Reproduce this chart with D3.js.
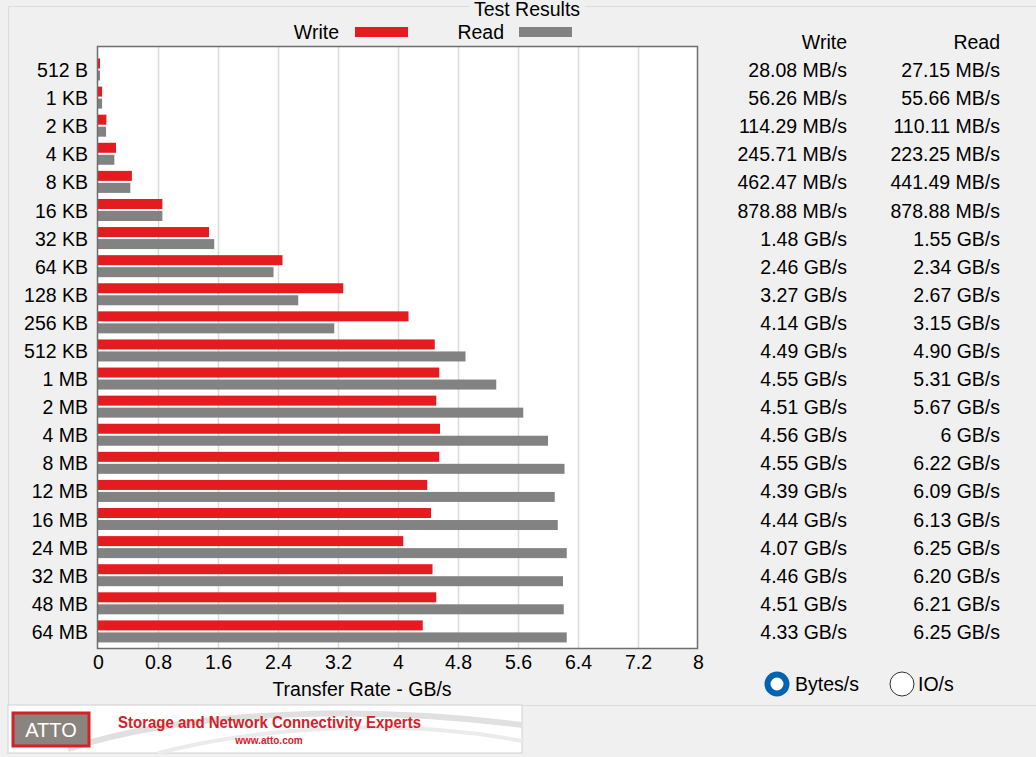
<!DOCTYPE html>
<html>
<head>
<meta charset="utf-8">
<script src="https://cdn.jsdelivr.net/npm/d3@7"></script>
<style>
  body { margin: 0; background: #f0f0f0; }
  svg { display: block; }
</style>
</head>
<body>
<div id="chart"></div>
<script>
// Transfer sizes and the rates ATTO printed for them
var sizes = ['512 B', '1 KB', '2 KB', '4 KB', '8 KB', '16 KB', '32 KB', '64 KB', '128 KB', '256 KB',
  '512 KB', '1 MB', '2 MB', '4 MB', '8 MB', '12 MB', '16 MB', '24 MB', '32 MB', '48 MB', '64 MB']
var writeRates = ['28.08 MB/s', '56.26 MB/s', '114.29 MB/s', '245.71 MB/s', '462.47 MB/s', '878.88 MB/s',
  '1.48 GB/s', '2.46 GB/s', '3.27 GB/s', '4.14 GB/s', '4.49 GB/s', '4.55 GB/s', '4.51 GB/s', '4.56 GB/s',
  '4.55 GB/s', '4.39 GB/s', '4.44 GB/s', '4.07 GB/s', '4.46 GB/s', '4.51 GB/s', '4.33 GB/s']
var readRates = ['27.15 MB/s', '55.66 MB/s', '110.11 MB/s', '223.25 MB/s', '441.49 MB/s', '878.88 MB/s',
  '1.55 GB/s', '2.34 GB/s', '2.67 GB/s', '3.15 GB/s', '4.90 GB/s', '5.31 GB/s', '5.67 GB/s', '6 GB/s',
  '6.22 GB/s', '6.09 GB/s', '6.13 GB/s', '6.25 GB/s', '6.20 GB/s', '6.21 GB/s', '6.25 GB/s']
var xTicks = [0, 0.8, 1.6, 2.4, 3.2, 4, 4.8, 5.6, 6.4, 7.2, 8]

// "28.08 MB/s" -> GB/s
function toGB(s) {
  var v = parseFloat(s)
  return s.indexOf('MB') >= 0 ? v / 1024 : v
}

var data = sizes.map(function(s, i) {
  return {size: s, write: toGB(writeRates[i]), read: toGB(readRates[i]), wText: writeRates[i], rText: readRates[i]}
})

var W = 1036, H = 757
var font = 'Liberation Sans, Arial, sans-serif'
var fs = '19.5px'
var red = '#e41b1f', gray = '#828282'

var svg = d3.select('#chart').append('svg')
  .attr('width', W).attr('height', H)
  .attr('font-family', font)

svg.append('rect').attr('width', W).attr('height', H).attr('fill', '#f0f0f0')

// group box
var gb = svg.append('g').attr('stroke', '#dcdcdc').attr('fill', 'none')
gb.append('path').attr('d', 'M8.5,706 V6.5 H469 M585,6.5 H1036')
gb.append('path').attr('d', 'M522,705.5 H1036')
svg.append('text').attr('x', 527).attr('y', 16).attr('text-anchor', 'middle')
  .attr('font-size', fs).attr('fill', '#000').text('Test Results')

// plot area
var margin = {top: 47, left: 98, right: 698, bottom: 648}
var x = d3.scaleLinear().domain([0, 8]).range([margin.left, margin.right])
var y = d3.scaleBand().domain(sizes).range([56, 646])

svg.append('rect')
  .attr('x', margin.left).attr('y', margin.top)
  .attr('width', margin.right - margin.left).attr('height', margin.bottom - margin.top)
  .attr('fill', '#fff')

svg.append('g').selectAll('line').data(xTicks.slice(1, -1)).enter().append('line')
  .attr('x1', function(d) { return Math.round(x(d)) + 0.5 })
  .attr('x2', function(d) { return Math.round(x(d)) + 0.5 })
  .attr('y1', margin.top).attr('y2', margin.bottom)
  .attr('stroke', '#dadada').attr('stroke-width', 1.5)

var rows = svg.append('g').selectAll('g').data(data).enter().append('g')
  .attr('transform', function(d) { return 'translate(0,' + y(d.size) + ')' })

rows.append('rect')
  .attr('x', x(0)).attr('y', 2.5)
  .attr('width', function(d) { return x(d.write) - x(0) })
  .attr('height', 10).attr('fill', red)

rows.append('rect')
  .attr('x', x(0)).attr('y', 14.5)
  .attr('width', function(d) { return x(d.read) - x(0) })
  .attr('height', 10).attr('fill', gray)

svg.append('rect')
  .attr('x', margin.left - 0.5).attr('y', margin.top - 0.5)
  .attr('width', margin.right - margin.left).attr('height', margin.bottom - margin.top + 1)
  .attr('fill', 'none').attr('stroke', '#6e6e6e').attr('stroke-width', 1.5)

// category labels
rows.append('text')
  .attr('x', 88).attr('y', y.bandwidth() / 2).attr('dy', '0.36em')
  .attr('text-anchor', 'end').attr('font-size', fs).text(function(d) { return d.size })

// result columns
rows.append('text')
  .attr('x', 847).attr('y', y.bandwidth() / 2).attr('dy', '0.36em')
  .attr('text-anchor', 'end').attr('font-size', fs).text(function(d) { return d.wText })
rows.append('text')
  .attr('x', 1000).attr('y', y.bandwidth() / 2).attr('dy', '0.36em')
  .attr('text-anchor', 'end').attr('font-size', fs).text(function(d) { return d.rText })

svg.append('text').attr('x', 847).attr('y', 42).attr('dy', '0.36em').attr('text-anchor', 'end')
  .attr('font-size', fs).text('Write')
svg.append('text').attr('x', 1000).attr('y', 42).attr('dy', '0.36em').attr('text-anchor', 'end')
  .attr('font-size', fs).text('Read')

// x axis
var xAxis = svg.append('g')
  .attr('transform', 'translate(0,' + margin.bottom + ')')
  .call(d3.axisBottom(x).tickValues(xTicks).tickSize(0).tickPadding(7).tickFormat(d3.format('')))
xAxis.select('.domain').remove()
xAxis.selectAll('text').attr('font-size', fs).attr('font-family', font).attr('fill', '#000')

svg.append('text').attr('x', 362).attr('y', 689).attr('dy', '0.36em').attr('text-anchor', 'middle')
  .attr('font-size', fs).text('Transfer Rate - GB/s')

// legend
var legend = [{name: 'Write', color: red, tx: 339, sx: 355}, {name: 'Read', color: gray, tx: 504, sx: 519}]
var lg = svg.append('g').selectAll('g').data(legend).enter().append('g')
lg.append('text').attr('x', function(d) { return d.tx }).attr('y', 32).attr('dy', '0.36em')
  .attr('text-anchor', 'end').attr('font-size', fs).text(function(d) { return d.name })
lg.append('rect').attr('x', function(d) { return d.sx }).attr('y', 27)
  .attr('width', 53).attr('height', 10).attr('fill', function(d) { return d.color })

// radio buttons
svg.append('circle').attr('cx', 777).attr('cy', 684).attr('r', 9.5).attr('fill', '#fff')
  .attr('stroke', '#0063b1').attr('stroke-width', 6)
svg.append('text').attr('x', 795).attr('y', 684).attr('dy', '0.36em').attr('font-size', fs).text('Bytes/s')
svg.append('circle').attr('cx', 902).attr('cy', 684).attr('r', 12).attr('fill', '#fff')
  .attr('stroke', '#333').attr('stroke-width', 1)
svg.append('text').attr('x', 918).attr('y', 684).attr('dy', '0.36em').attr('font-size', fs).text('IO/s')

// banner
var banner = svg.append('g').attr('transform', 'translate(8,705)')
banner.append('rect').attr('width', 514).attr('height', 48).attr('fill', '#fff').attr('stroke', '#d0d0d0')
banner.append('path').attr('d', 'M60,44 C180,5 360,0 514,20').attr('fill', 'none').attr('stroke', '#e0e0e0').attr('stroke-width', 6)
banner.append('path').attr('d', 'M150,48 C260,20 400,14 514,36').attr('fill', 'none').attr('stroke', '#ebebeb').attr('stroke-width', 4)
banner.append('rect').attr('x', 5).attr('y', 8).attr('width', 76).attr('height', 33)
  .attr('fill', '#8a837e').attr('stroke', '#d62027').attr('stroke-width', 3)
banner.append('text').attr('x', 43).attr('y', 25).attr('dy', '0.36em').attr('text-anchor', 'middle')
  .attr('fill', '#fff').attr('font-size', '20px').text('ATTO')
banner.append('text').attr('x', 110).attr('y', 17).attr('dy', '0.36em')
  .attr('fill', '#d62027').attr('font-size', '17px').attr('font-weight', 'bold')
  .attr('textLength', 303).attr('lengthAdjust', 'spacingAndGlyphs')
  .text('Storage and Network Connectivity Experts')
banner.append('text').attr('x', 261).attr('y', 35).attr('dy', '0.36em').attr('text-anchor', 'middle')
  .attr('fill', '#d62027').attr('font-size', '10px').attr('font-weight', 'bold').text('www.atto.com')
</script>
</body>
</html>
